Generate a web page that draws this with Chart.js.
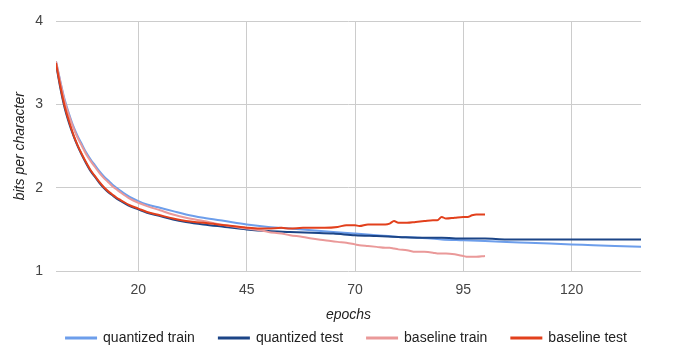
<!DOCTYPE html>
<html>
<head>
<meta charset="utf-8">
<script src="https://cdn.jsdelivr.net/npm/chart.js@4.4.0/dist/chart.umd.min.js"></script>
<style>
  html, body { margin: 0; padding: 0; background: #ffffff; }
  #wrap { width: 675px; height: 355px; }
</style>
</head>
<body>
<div id="wrap"><canvas id="chart" width="675" height="355"></canvas></div>
<script>
// epochs for the quantized runs
const quantEpochs = [1, 2, 3, 4, 5, 6, 7, 8, 9, 10, 11, 12, 13, 14, 15, 16, 18, 20, 22, 25, 28, 31, 35, 40, 45,
  50, 55, 60, 65, 70, 75, 80, 85, 90, 95, 100, 105, 110, 115, 120, 125, 130, 136];
const quantTrain = [3.52, 3.28, 3.06, 2.89, 2.74, 2.62, 2.52, 2.42, 2.34, 2.27, 2.20, 2.14, 2.09, 2.04, 2.00, 1.96, 1.89, 1.84, 1.80, 1.76, 1.72, 1.68, 1.64, 1.60, 1.56,
  1.53, 1.51, 1.49, 1.47, 1.45, 1.43, 1.41, 1.40, 1.38, 1.37, 1.36, 1.35, 1.34, 1.33, 1.32, 1.31, 1.30, 1.29];
const quantTest = [3.49, 3.20, 2.96, 2.78, 2.63, 2.50, 2.39, 2.29, 2.20, 2.13, 2.06, 2.00, 1.95, 1.91, 1.87, 1.84, 1.78, 1.74, 1.70, 1.66, 1.62, 1.59, 1.56, 1.53, 1.50,
  1.48, 1.47, 1.46, 1.45, 1.43, 1.42, 1.41, 1.40, 1.40, 1.39, 1.39, 1.38, 1.38, 1.38, 1.38, 1.38, 1.38, 1.38];

// epochs for the baseline runs (stop at 100)
const baseEpochs = [1, 2, 3, 4, 5, 6, 7, 8, 9, 10, 11, 12, 13, 14, 15, 16, 18, 20, 22, 25, 28, 31, 35, 40, 45,
  48, 50, 53, 55, 58, 60, 63, 66, 68, 70, 71, 73, 75, 77, 78, 79, 80, 82, 84, 86, 88, 89, 90, 91, 93, 95, 96, 97, 98, 100];
const baseTrain = [3.52, 3.27, 3.04, 2.87, 2.72, 2.60, 2.50, 2.40, 2.32, 2.25, 2.18, 2.12, 2.07, 2.02, 1.98, 1.94, 1.87, 1.82, 1.78, 1.73, 1.68, 1.64, 1.60, 1.55, 1.51,
  1.49, 1.47, 1.45, 1.43, 1.41, 1.39, 1.37, 1.35, 1.34, 1.32, 1.31, 1.30, 1.29, 1.28, 1.28, 1.27, 1.26, 1.25, 1.23, 1.23, 1.22, 1.21, 1.21, 1.21, 1.20, 1.18, 1.17, 1.17, 1.17, 1.18];
const baseTest = [3.50, 3.22, 2.98, 2.80, 2.64, 2.51, 2.40, 2.30, 2.21, 2.14, 2.07, 2.01, 1.96, 1.92, 1.88, 1.85, 1.79, 1.75, 1.71, 1.67, 1.63, 1.60, 1.58, 1.55, 1.52,
  1.51, 1.51, 1.52, 1.51, 1.52, 1.52, 1.52, 1.53, 1.55, 1.55, 1.54, 1.56, 1.56, 1.56, 1.57, 1.60, 1.58, 1.58, 1.59, 1.60, 1.61, 1.61, 1.65, 1.63, 1.64, 1.65, 1.65, 1.67, 1.68, 1.68];

const seriesNames = ['quantized train', 'quantized test', 'baseline train', 'baseline test'];
const seriesColors = ['#6d9eeb', '#1c4587', '#ea9999', '#e2401c'];
const xTicks = [20, 45, 70, 95, 120];
const yTicks = [1, 2, 3, 4];

const FONT = 'Arial, "Liberation Sans", sans-serif';

const toPoints = (xs, ys) => xs.map((x, i) => ({ x: x, y: ys[i] }));

const makeSet = (idx, xs, ys, order) => ({
  label: seriesNames[idx],
  data: toPoints(xs, ys),
  borderColor: seriesColors[idx],
  backgroundColor: seriesColors[idx],
  borderWidth: 2,
  pointRadius: 0,
  cubicInterpolationMode: 'monotone',
  order: order
});

const ctx = document.getElementById('chart').getContext('2d');

new Chart(ctx, {
  type: 'line',
  data: {
    datasets: [
      makeSet(0, quantEpochs, quantTrain, 4),
      makeSet(1, quantEpochs, quantTest, 3),
      makeSet(2, baseEpochs, baseTrain, 2),
      makeSet(3, baseEpochs, baseTest, 1)
    ]
  },
  options: {
    responsive: false,
    animation: false,
    layout: { padding: { left: 18, right: 0, top: 21, bottom: 0 } },
    plugins: {
      tooltip: { enabled: false },
      legend: {
        position: 'bottom',
        maxHeight: 48,
        labels: {
          boxWidth: 30,
          boxHeight: 1,
          padding: 24,
          color: '#222222',
          font: { family: FONT, size: 14 },
          sort: (a, b) => a.datasetIndex - b.datasetIndex
        }
      }
    },
    scales: {
      x: {
        type: 'linear',
        min: 1,
        max: 136,
        afterBuildTicks: (scale) => { scale.ticks = xTicks.map(v => ({ value: v })); },
        afterFit: (scale) => { scale.height = 36; },
        grid: { color: '#cccccc', drawTicks: false },
        border: { display: false },
        ticks: {
          padding: 11,
          color: '#444444',
          maxRotation: 0,
          font: { family: FONT, size: 14 }
        },
        title: {
          display: true,
          text: 'epochs',
          color: '#222222',
          padding: { top: 0, bottom: -17 },
          font: { family: FONT, size: 14, style: 'italic' }
        }
      },
      y: {
        min: 1,
        max: 4,
        afterBuildTicks: (scale) => { scale.ticks = yTicks.map(v => ({ value: v })); },
        afterFit: (scale) => { scale.width = 38; },
        grid: { color: '#cccccc', drawTicks: false },
        border: { display: false },
        ticks: {
          padding: 13,
          color: '#444444',
          font: { family: FONT, size: 14 }
        },
        title: {
          display: true,
          text: 'bits per character',
          color: '#222222',
          padding: { top: -6, bottom: 0 },
          font: { family: FONT, size: 14, style: 'italic' }
        }
      },
      // empty right margin so the plot ends where the reference does
      yRight: {
        position: 'right',
        afterFit: (scale) => { scale.width = 34; },
        grid: { display: false },
        border: { display: false },
        ticks: { display: false }
      }
    }
  }
});
</script>
</body>
</html>
